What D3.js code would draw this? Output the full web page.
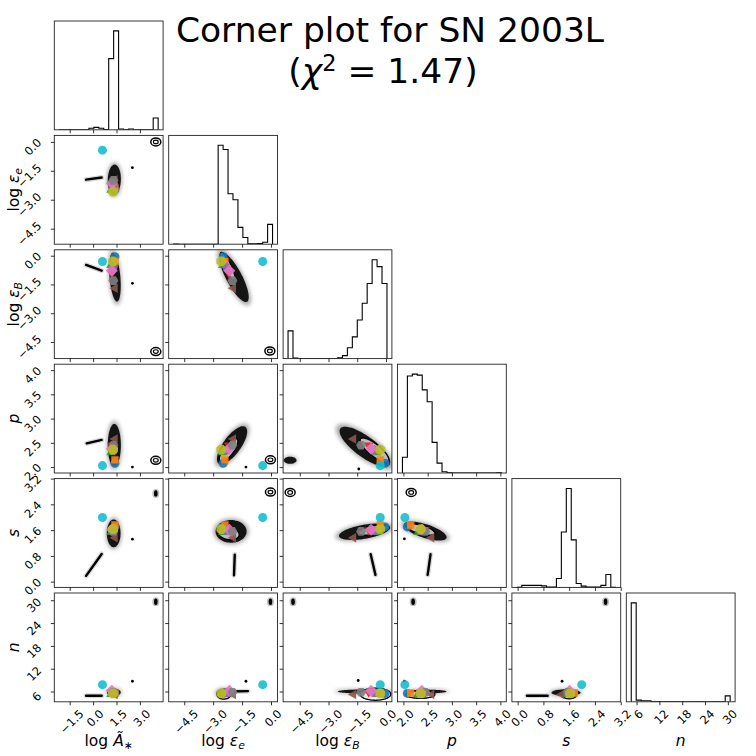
<!DOCTYPE html>
<html>
<head>
<meta charset="utf-8">
<script src="https://cdn.jsdelivr.net/npm/d3@7"></script>
<style>
  body { margin: 0; background: #fff; }
  text { font-family: "DejaVu Sans", sans-serif; fill: #000; }
</style>
</head>
<body>
<div id="app"></div>
<script>
// parameter order: log A*, log eps_e, log eps_B, p, s, n
const histLo = [-2.17, -5.05, -5.11, 1.98, -0.025, 4.6];
const histHi = [4.17, 0.08, 0.05, 4.02, 3.046, 30.6];

const ticksLogA = [-1.5, 0, 1.5, 3.0];
const ticksLogEe = [-4.5, -3.0, -1.5, 0];
const ticksLogEb = [-4.5, -3.0, -1.5, 0];
const ticksP = [2.0, 2.5, 3.0, 3.5, 4.0];
const ticksS = [0, 0.8, 1.6, 2.4, 3.2];
const ticksN = [6, 12, 18, 24, 30];

// 20 bins each, relative counts
const histLogA = [0.1, 0, 0, 0, 0, 0, 1.5, 2.5, 1.5, 0.3, 72, 100, 0.8, 0, 0.8, 0, 0, 0, 0, 12];
const histLogEe = [0.1, 0, 0, 0, 0, 0, 0, 0, 0, 100, 95.7, 51, 45, 17, 6.7, 0.4, 0.4, 0.7, 2, 20];
const histLogEb = [28, 0.5, 0, 0, 0, 0, 0, 0, 0, 0, 0.7, 3, 11, 22, 39, 56, 76, 100, 93, 76];
const histP = [16, 98, 100, 99, 84, 72, 31, 10, 1.3, 0.2, 0, 0, 0, 0, 0, 0, 0, 0, 0, 0.1];
const histS = [0, 2, 2, 2, 2, 1.5, 0.3, 0.3, 9, 56, 100, 48, 4, 1.3, 0.3, 0.3, 0.3, 2, 13, 0];
const histN = [100, 1.7, 1, 1, 0.3, 0.2, 0, 0, 0, 0, 0, 0, 0, 0, 0, 0, 0, 0, 0, 6];

// best fit solutions (one per colour)
const fitColors = ["#1f77b4", "#ff7f0e", "#2ca02c", "#d62728", "#9467bd", "#8c564b", "#e377c2", "#7f7f7f", "#bcbd22", "#17becf"];
const fitShapes = ["circle", "square", "up", "down", "pentagon", "left", "diamond", "hexagon", "octagon", "circle"];
const fitLogA = [1.40, 1.40, 1.15, 1.20, 1.30, 1.40, 1.20, 1.30, 1.28, 0.60];
const fitLogEe = [-2.48, -2.39, -2.50, -2.20, -2.30, -1.96, -2.16, -2.00, -2.58, -0.43];
const fitLogEb = [-0.05, -0.30, -0.50, -0.90, -0.60, -1.70, -0.78, -1.30, -0.30, -0.30];
const fitP = [2.08, 2.15, 2.30, 2.45, 2.35, 2.58, 2.38, 2.45, 2.36, 2.03];
const fitS = [1.70, 1.76, 1.53, 1.60, 1.58, 1.36, 1.61, 1.56, 1.63, 1.99];
const fitN = [5.5, 5.6, 5.3, 5.8, 5.6, 5.2, 6.2, 5.8, 5.5, 7.8];

// sample clouds: [xParam, yParam, cx, cy, halfX, halfY, rho]
const clouds = [
  [0, 1, 1.36, -1.96, 0.43, 0.8, 0.05],
  [0, 2, 1.4, -1.12, 0.38, 1.3, -0.35],
  [0, 3, 1.36, 2.45, 0.43, 0.45, 0],
  [0, 4, 1.32, 1.5, 0.45, 0.44, 0],
  [0, 5, 1.33, 5.8, 0.45, 1.0, 0],
  [1, 2, -1.92, -1.12, 0.78, 1.32, -0.8],
  [1, 3, -2.02, 2.45, 0.8, 0.4, 0.72],
  [1, 4, -2.07, 1.56, 0.82, 0.36, 0],
  [1, 5, -2.4, 5.6, 0.45, 1.2, 0],
  [2, 3, -1.1, 2.42, 1.35, 0.42, -0.78],
  [2, 3, -5.0, 2.14, 0.34, 0.075, 0],
  [2, 4, -1.12, 1.55, 1.36, 0.26, 0.5],
  [2, 5, -1.14, 6.0, 1.4, 0.55, 0],
  [3, 4, 2.45, 1.57, 0.45, 0.3, -0.65],
  [3, 5, 2.47, 6.0, 0.43, 0.5, 0],
  [4, 5, 1.5, 5.7, 0.46, 0.9, 0]
];
// highest density contours: same layout
const cores = [
  [1, 2, -2.25, -0.55, 0.38, 0.72, -0.85],
  [1, 3, -2.2, 2.35, 0.48, 0.24, 0.75],
  [1, 4, -2.2, 1.5, 0.55, 0.2, -0.2],
  [1, 5, -2.45, 5.2, 0.35, 1.2, 0],
  [2, 3, -0.6, 2.35, 0.75, 0.25, -0.8],
  [2, 4, -0.65, 1.6, 0.8, 0.16, 0.5],
  [2, 5, -0.55, 5.3, 0.8, 1.6, 0],
  [3, 4, 2.35, 1.62, 0.3, 0.18, -0.65],
  [3, 5, 2.35, 5.2, 0.3, 1.0, 0],
  [4, 5, 1.6, 5.0, 0.22, 0.9, 0]
];
// thin degenerate tails: [xParam, yParam, x1, y1, x2, y2]
const streaks = [
  [0, 1, -0.45, -1.96, 0.55, -1.85],
  [0, 2, -0.45, -0.48, 0.55, -0.78],
  [0, 3, -0.41, 2.49, 0.55, 2.56],
  [0, 4, -0.45, 0.18, 0.55, 0.86],
  [0, 5, -0.45, 4.9, 0.55, 4.9],
  [1, 4, -1.88, 0.84, -1.92, 0.2],
  [1, 5, -2.1, 6.0, -1.2, 6.1],
  [2, 4, -0.8, 0.85, -0.55, 0.21],
  [3, 4, 2.56, 0.85, 2.5, 0.21],
  [4, 5, 0.29, 4.9, 0.93, 4.9]
];
// isolated samples: [xParam, yParam, x, y]
const dots = [
  [0, 1, 2.52, -1.34], [0, 2, 2.52, -1.44], [0, 3, 2.52, 2.0], [0, 4, 2.52, 1.32], [0, 5, 2.52, 8.7],
  [1, 3, -1.3, 2.0], [1, 5, -1.3, 8.7], [2, 3, -1.42, 1.96], [2, 5, -1.45, 8.9],
  [3, 4, 2.02, 1.33], [3, 5, 2.02, 8.7], [4, 5, 1.38, 8.7]
];
const islands = [
  [0, 5, 4.02, 29.6], [1, 5, -0.03, 29.6], [2, 5, -4.85, 29.6], [3, 5, 2.2, 29.6], [4, 5, 2.73, 29.6],
  [0, 4, 4.02, 2.74]
];
const rings = [
  [0, 1, 4.02, 0.0], [0, 2, 4.02, -5.0], [0, 3, 4.02, 2.14], [1, 2, -0.06, -4.97],
  [1, 3, -0.03, 2.15], [1, 4, -0.03, 2.78], [2, 4, -5.0, 2.77], [3, 4, 2.16, 2.77]
];

const axisLabels = [
  [["log ", "n"], ["Ã", "i"], ["∗", "sub"]],
  [["log ", "n"], ["ε", "i"], ["e", "sub"]],
  [["log ", "n"], ["ε", "i"], ["B", "sub"]],
  [["p", "i"]],
  [["s", "i"]],
  [["n", "i"]]
];

const hists = [histLogA, histLogEe, histLogEb, histP, histS, histN];
const ticks = [ticksLogA, ticksLogEe, ticksLogEb, ticksP, ticksS, ticksN];
const fits = [fitLogA, fitLogEe, fitLogEb, fitP, fitS, fitN];

const W = 756, H = 756;
const gridLeft = 54.3, gridTop = 21, pitch = 114.4, size = 108.8;
const nPar = 6;
const tickFont = 11.5;

const span = i => {
  const w = histHi[i] - histLo[i];
  return [histLo[i] - 0.05 * w, histHi[i] + 0.05 * w];
};
const xs = d3.range(nPar).map(i => d3.scaleLinear().domain(span(i)).range([gridLeft + i * pitch, gridLeft + i * pitch + size]));
const ys = d3.range(nPar).map(i => d3.scaleLinear().domain(span(i)).range([gridTop + i * pitch + size, gridTop + i * pitch]));
const fmt = [".1f", ".1f", ".1f", ".1f", ".1f", "d"].map(f => d3.format(f));

const svg = d3.select("#app").append("svg")
  .attr("width", W).attr("height", H)
  .attr("viewBox", [0, 0, W, H]);

const defs = svg.append("defs");
defs.append("filter").attr("id", "halo").attr("x", "-50%").attr("y", "-50%").attr("width", "200%").attr("height", "200%")
  .append("feGaussianBlur").attr("stdDeviation", 2.2);
defs.append("filter").attr("id", "soft").attr("x", "-50%").attr("y", "-50%").attr("width", "200%").attr("height", "200%")
  .append("feGaussianBlur").attr("stdDeviation", 0.6);

const ellipsePath = (c, k) => {
  const [xi, yi, cx, cy, sx, sy, rho] = c;
  const q = Math.sqrt(1 - rho * rho);
  const pts = d3.range(72).map(j => {
    const t = j / 72 * 2 * Math.PI;
    return [xs[xi](cx + k * sx * Math.cos(t)), ys[yi](cy + k * sy * (rho * Math.cos(t) + q * Math.sin(t)))];
  });
  return d3.line().curve(d3.curveCardinalClosed)(pts);
};

const polygon = (n, r, rot) => d3.line().curve(d3.curveLinearClosed)(
  d3.range(n).map(k => {
    const a = rot + k * 2 * Math.PI / n;
    return [r * Math.cos(a), r * Math.sin(a)];
  }));
const markerPath = shape => {
  switch (shape) {
    case "square": return polygon(4, 5.2, Math.PI / 4);
    case "up": return polygon(3, 5.5, -Math.PI / 2);
    case "down": return polygon(3, 5.5, Math.PI / 2);
    case "left": return polygon(3, 5.5, Math.PI);
    case "diamond": return polygon(4, 6, 0);
    case "pentagon": return polygon(5, 5, -Math.PI / 2);
    case "hexagon": return polygon(6, 5, 0);
    case "octagon": return polygon(8, 5.3, Math.PI / 8);
    default: return d3.symbol(d3.symbolCircle, 64)();
  }
};

const addLabel = (sel, parts) => parts.forEach(([t, st]) => {
  const ts = sel.append("tspan").text(t);
  if (st === "i") ts.attr("font-style", "italic");
  if (st === "sub") ts.attr("font-size", "70%").attr("dy", "0.25em").attr("font-style", t === "∗" ? "normal" : "italic");
});

const drawTicks = (g, j, i, isHist) => {
  const bottom = gridTop + i * pitch + size;
  const lx = gridLeft + j * pitch;
  g.append("g").attr("transform", `translate(0,${bottom})`)
    .call(d3.axisBottom(xs[j]).tickValues(ticks[j]).tickSize(3.5).tickSizeOuter(0).tickFormat(""))
    .call(a => a.select(".domain").remove())
    .call(a => a.selectAll("line").attr("stroke", "#000").attr("stroke-width", 0.8));
  if (!isHist) {
    g.append("g").attr("transform", `translate(${lx},0)`)
      .call(d3.axisLeft(ys[i]).tickValues(ticks[i]).tickSize(3.5).tickSizeOuter(0).tickFormat(""))
      .call(a => a.select(".domain").remove())
      .call(a => a.selectAll("line").attr("stroke", "#000").attr("stroke-width", 0.8));
  }
  // tick labels on the outer edges only
  if (i === nPar - 1) {
    ticks[j].forEach(v => {
      const t = g.append("text").attr("font-size", tickFont).attr("text-anchor", "middle")
        .attr("dominant-baseline", "central").text(fmt[j](v));
      const half = (t.node().getComputedTextLength() + 8.5) * 0.7071 / 2;
      t.attr("transform", `translate(${xs[j](v) + 2},${bottom + 7 + half}) rotate(-45)`);
    });
  }
  if (j === 0 && !isHist) {
    ticks[i].forEach(v => {
      const t = g.append("text").attr("font-size", tickFont).attr("text-anchor", "middle")
        .attr("dominant-baseline", "central").text(fmt[i](v));
      const half = (t.node().getComputedTextLength() + 8.5) * 0.7071 / 2;
      t.attr("transform", `translate(${lx - 12 - half},${ys[i](v) + 5}) rotate(-45)`);
    });
  }
};

const onPanel = (list, j, i) => list.filter(d => d[0] === j && d[1] === i);

for (let i = 0; i < nPar; i += 1) {
  for (let j = 0; j <= i; j += 1) {
    const x0 = gridLeft + j * pitch, y0 = gridTop + i * pitch;
    const g = svg.append("g");
    const clipId = `clip-${j}-${i}`;
    defs.append("clipPath").attr("id", clipId)
      .append("rect").attr("x", x0).attr("y", y0).attr("width", size).attr("height", size);
    const inner = g.append("g").attr("clip-path", `url(#${clipId})`);

    if (i === j) {
      const counts = hists[i];
      const lo = histLo[i], bw = (histHi[i] - histLo[i]) / counts.length;
      const yh = d3.scaleLinear().domain([0, 1.1 * d3.max(counts)]).range([y0 + size, y0]);
      const pts = [[xs[i](lo), yh(0)]];
      counts.forEach((c, k) => {
        pts.push([xs[i](lo + k * bw), yh(c)]);
        pts.push([xs[i](lo + (k + 1) * bw), yh(c)]);
      });
      pts.push([xs[i](histHi[i]), yh(0)]);
      inner.append("path").attr("d", d3.line()(pts))
        .attr("fill", "none").attr("stroke", "#000").attr("stroke-width", 1.1);
    } else {
      onPanel(clouds, j, i).forEach(c => {
        inner.append("path").attr("d", ellipsePath(c, 1.12))
          .attr("fill", "#000").attr("opacity", 0.35).attr("filter", "url(#halo)");
        inner.append("path").attr("d", ellipsePath(c, 0.98))
          .attr("fill", "#111").attr("opacity", 0.95).attr("filter", "url(#soft)");
      });
      onPanel(streaks, j, i).forEach(s => {
        const line = inner.append("line")
          .attr("x1", xs[j](s[2])).attr("y1", ys[i](s[3]))
          .attr("x2", xs[j](s[4])).attr("y2", ys[i](s[5]))
          .attr("stroke-linecap", "round");
        line.clone().attr("stroke", "#000").attr("stroke-width", 5).attr("opacity", 0.15);
        line.attr("stroke", "#000").attr("stroke-width", 2.4);
      });
      onPanel(cores, j, i).forEach(c => {
        inner.append("path").attr("d", ellipsePath(c, 1))
          .attr("fill", "#e6e6e6").attr("fill-opacity", 0.8)
          .attr("stroke", "#000").attr("stroke-width", 1.3);
      });
      onPanel(dots, j, i).forEach(d => {
        inner.append("circle").attr("cx", xs[j](d[2])).attr("cy", ys[i](d[3]))
          .attr("r", 1.4).attr("fill", "#000");
      });
      onPanel(islands, j, i).forEach(d => {
        inner.append("ellipse").attr("cx", xs[j](d[2])).attr("cy", ys[i](d[3]))
          .attr("rx", 3.5).attr("ry", 4.5).attr("fill", "#000").attr("opacity", 0.25).attr("filter", "url(#soft)");
        inner.append("ellipse").attr("cx", xs[j](d[2])).attr("cy", ys[i](d[3]))
          .attr("rx", 1.8).attr("ry", 3.2).attr("fill", "#000");
      });
      onPanel(rings, j, i).forEach(d => {
        const cx = xs[j](d[2]), cy = ys[i](d[3]);
        inner.append("ellipse").attr("cx", cx).attr("cy", cy).attr("rx", 5).attr("ry", 4)
          .attr("fill", "#fff").attr("stroke", "#000").attr("stroke-width", 1.5);
        inner.append("ellipse").attr("cx", cx).attr("cy", cy).attr("rx", 2.4).attr("ry", 1.8)
          .attr("fill", "none").attr("stroke", "#000").attr("stroke-width", 1.2);
      });
      fitColors.forEach((col, k) => {
        inner.append("path").attr("d", markerPath(fitShapes[k]))
          .attr("transform", `translate(${xs[j](fits[j][k])},${ys[i](fits[i][k])})`)
          .attr("fill", col).attr("opacity", 0.9);
      });
    }

    g.append("rect").attr("x", x0).attr("y", y0).attr("width", size).attr("height", size)
      .attr("fill", "none").attr("stroke", "#222").attr("stroke-width", 0.9);
    drawTicks(g, j, i, i === j);
  }
}

// axis titles
d3.range(nPar).forEach(k => {
  const xl = svg.append("text").attr("font-size", 15.5).attr("text-anchor", "middle")
    .attr("x", gridLeft + k * pitch + size / 2).attr("y", 746);
  addLabel(xl, axisLabels[k]);
  if (k > 0) {
    const yl = svg.append("text").attr("font-size", 15.5).attr("text-anchor", "middle")
      .attr("transform", `translate(19,${gridTop + k * pitch + size / 2}) rotate(-90)`);
    addLabel(yl, axisLabels[k]);
  }
});

// title
svg.append("text").attr("x", 390).attr("y", 42).attr("font-size", 34.5).attr("text-anchor", "middle")
  .text("Corner plot for SN 2003L");
const t2 = svg.append("text").attr("x", 383).attr("y", 83).attr("font-size", 34.5).attr("text-anchor", "middle");
t2.append("tspan").text("(");
t2.append("tspan").attr("font-style", "italic").text("χ");
t2.append("tspan").attr("font-size", "65%").attr("dy", "-0.55em").text("2");
t2.append("tspan").attr("dy", "0.36em").text(" = 1.47)");
</script>
</body>
</html>
